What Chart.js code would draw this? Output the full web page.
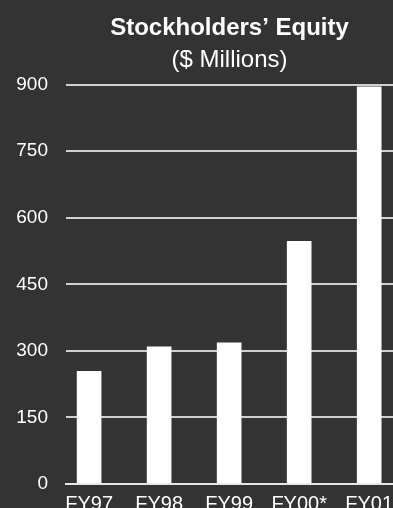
<!DOCTYPE html>
<html>
<head>
<meta charset="utf-8">
<script src="https://cdn.jsdelivr.net/npm/chart.js@4/dist/chart.umd.min.js"></script>
<style>
    html, body { margin: 0; padding: 0; background: #333333; overflow: hidden; }
    #wrap { width: 393px; height: 508px; }
</style>
</head>
<body>
<div id="wrap"><canvas id="equityChart" width="393" height="508"></canvas></div>
<script>
// 股东权益数据（百万美元）
const years = ['FY97', 'FY98', 'FY99', 'FY00*', 'FY01'];
const equity = [254, 309, 318, 547, 895];
const yTicks = [0, 150, 300, 450, 600, 750, 900];

const FONT = '"Liberation Sans", Arial, Helvetica, sans-serif';

// 不让刻度标签的溢出挤压绘图区
function noLabelPadding(scale) {
    scale.paddingLeft = 0;
    scale.paddingRight = 0;
    scale.paddingTop = 0;
    scale.paddingBottom = 0;
}

const ctx = document.getElementById('equityChart');

new Chart(ctx, {
    type: 'bar',
    data: {
        datasets: [{
            label: 'Stockholders’ Equity',
            data: years.map((y, i) => ({ x: i, y: equity[i] })),
            backgroundColor: '#ffffff',
            borderWidth: 0,
            barThickness: 24
        }]
    },
    options: {
        responsive: false,
        animation: false,
        layout: { padding: { top: 6, right: 0, bottom: 0, left: 0 } },
        plugins: {
            legend: { display: false },
            tooltip: { enabled: false },
            title: {
                display: true,
                fullSize: false,
                text: 'Stockholders’ Equity',
                color: '#ffffff',
                font: { family: FONT, size: 24, weight: 'bold' },
                padding: { top: 8, bottom: 0 }
            },
            subtitle: {
                display: true,
                fullSize: false,
                text: '($ Millions)',
                color: '#ffffff',
                font: { family: FONT, size: 24 },
                padding: { top: 3, bottom: 10 }
            }
        },
        scales: {
            x: {
                type: 'linear',
                offset: false,
                min: -0.33,
                max: 4.34,
                afterBuildTicks: scale => {
                    scale.ticks = years.map((_, i) => ({ value: i }));
                },
                // 底部标签只保留一条窄带，让标签在画布底部被截断
                afterFit: scale => {
                    scale.height = 24;
                    noLabelPadding(scale);
                },
                ticks: {
                    color: '#ffffff',
                    font: { family: FONT, size: 20 },
                    padding: 0,
                    maxRotation: 0,
                    autoSkip: false,
                    callback: v => years[v]
                },
                grid: { display: false, offset: false },
                border: { display: true, color: '#e6e6e6', width: 2 }
            },
            y: {
                min: 0,
                max: 900,
                afterBuildTicks: scale => {
                    scale.ticks = yTicks.map(v => ({ value: v }));
                },
                afterFit: scale => {
                    scale.width = 66;
                    noLabelPadding(scale);
                },
                ticks: {
                    color: '#ffffff',
                    font: { family: FONT, size: 19 },
                    padding: 18
                },
                grid: {
                    color: '#cfcfcf',
                    lineWidth: 2,
                    drawTicks: false
                },
                border: { display: false }
            }
        }
    }
});
</script>
</body>
</html>
